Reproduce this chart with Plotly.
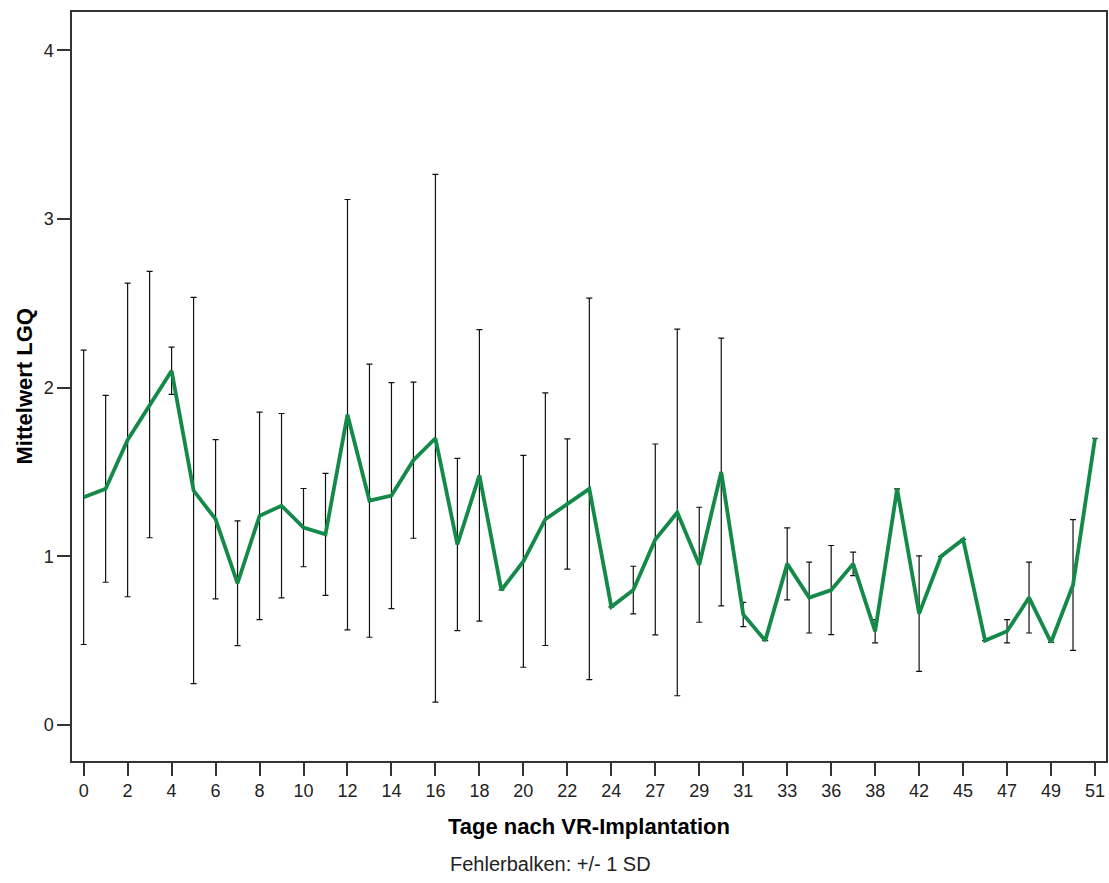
import plotly.graph_objects as go

days = ["0", "1", "2", "3", "4", "5", "6", "7", "8", "9", "10", "11", "12", "13", "14", "15",
        "16", "17", "18", "19", "20", "21", "22", "23", "24", "25", "27", "28", "29", "30",
        "31", "32", "33", "35", "36", "37", "38", "40", "42", "43", "45", "46", "47", "48",
        "49", "50", "51"]

mean_lgq = [1.35, 1.40, 1.69, 1.90, 2.10, 1.39, 1.22, 0.84, 1.24, 1.30, 1.17, 1.13, 1.84, 1.33,
            1.36, 1.57, 1.70, 1.07, 1.48, 0.80, 0.97, 1.22, 1.31, 1.40, 0.70, 0.80, 1.10, 1.26,
            0.95, 1.50, 0.655, 0.50, 0.955, 0.755, 0.80, 0.955, 0.555, 1.40, 0.66, 1.00, 1.10,
            0.50, 0.555, 0.755, 0.49, 0.83, 1.70]

sd_lgq = [0.873, 0.554, 0.93, 0.79, 0.14, 1.145, 0.472, 0.37, 0.615, 0.547, 0.232, 0.362, 1.276,
          0.81, 0.67, 0.463, 1.565, 0.511, 0.864, None, 0.628, 0.749, 0.386, 1.131, None, 0.141,
          0.566, 1.087, 0.341, 0.794, 0.072, None, 0.213, 0.21, 0.264, 0.07, 0.069, None, 0.343,
          None, None, None, 0.069, 0.21, None, 0.388, None]

tick_labels = ["0", "2", "4", "6", "8", "10", "12", "14", "16", "18", "20", "22", "24", "27",
               "29", "31", "33", "36", "38", "42", "45", "47", "49", "51"]

y_ticks = [0, 1, 2, 3, 4]

FONT = "Liberation Sans, Arial, sans-serif"
AXIS_COLOR = "#333333"

fig = go.Figure()
fig.add_trace(go.Scatter(
    x=days,
    y=mean_lgq,
    mode="lines",
    line=dict(color="#138a48", width=3.8),
    error_y=dict(
        type="data",
        array=[v if v is not None else 0 for v in sd_lgq],
        visible=True,
        color="#111111",
        thickness=1.2,
        width=3,
    ),
    showlegend=False,
))

axis_common = dict(
    ticks="outside",
    ticklen=13,
    tickwidth=1.5,
    tickcolor=AXIS_COLOR,
    tickfont=dict(size=18, family=FONT, color="#222222"),
    showline=True,
    linecolor=AXIS_COLOR,
    linewidth=1.5,
    mirror=True,
    showgrid=False,
    zeroline=False,
    automargin=False,
)

fig.update_layout(
    width=1109,
    height=883,
    margin=dict(l=72, r=3, t=12, b=122),
    paper_bgcolor="white",
    plot_bgcolor="white",
    font=dict(family=FONT, color="#000000"),
    xaxis=dict(
        type="category",
        categoryorder="array",
        categoryarray=days,
        range=[-0.53, 46.5],
        tickmode="array",
        tickvals=tick_labels,
        ticktext=tick_labels,
        **axis_common,
    ),
    yaxis=dict(
        range=[-0.214, 4.228],
        tickmode="array",
        tickvals=y_ticks,
        ticktext=[str(v) for v in y_ticks],
        **axis_common,
    ),
    annotations=[
        dict(
            text="<b>Tage nach VR-Implantation</b>",
            xref="paper", yref="paper",
            x=0.5, y=0, yshift=-65,
            xanchor="center", yanchor="middle",
            showarrow=False,
            font=dict(size=22, family=FONT, color="#000000"),
        ),
        dict(
            text="<b>Mittelwert LGQ</b>",
            xref="paper", yref="paper",
            x=-0.0464, y=0.5,
            xanchor="center", yanchor="middle",
            textangle=-90,
            showarrow=False,
            font=dict(size=22, family=FONT, color="#000000"),
        ),
        dict(
            text="Fehlerbalken: +/- 1 SD",
            xref="paper", yref="paper",
            x=0.463, y=0, yshift=-103,
            xanchor="center", yanchor="middle",
            showarrow=False,
            font=dict(size=20, family=FONT, color="#222222"),
        ),
    ],
)

fig.write_html(
    "out.html",
    config={"displayModeBar": False},
    post_script="document.body.style.margin='0';document.body.style.overflow='hidden';",
)
